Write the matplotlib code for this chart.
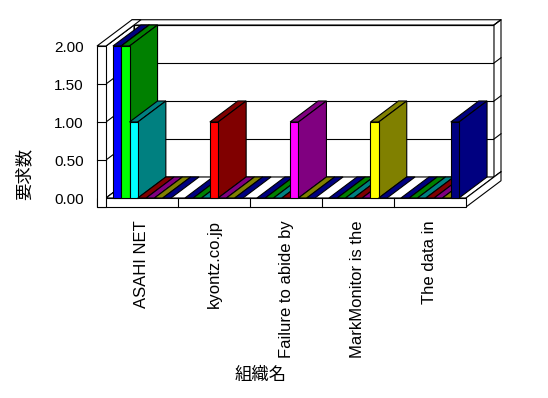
import matplotlib
matplotlib.use("Agg")
import matplotlib.pyplot as plt
from matplotlib.patches import Polygon

plt.rcParams['font.family'] = ['Liberation Sans', 'Noto Sans CJK JP', 'DejaVu Sans']

categories = ["ASAHI NET", "kyontz.co.jp", "Failure to abide by", "MarkMonitor is the", "The data in"]
s_blue = [2, 0, 0, 0, 0]
s_lime = [2, 0, 0, 0, 0]
s_cyan = [1, 0, 0, 0, 0]
s_red = [0, 1, 0, 0, 0]
s_magenta = [0, 0, 1, 0, 0]
s_yellow = [0, 0, 0, 1, 0]
s_navy = [0, 0, 0, 0, 1]
series = [s_blue, s_lime, s_cyan, s_red, s_magenta, s_yellow, s_navy]
front_colors = ["#0000FF", "#00FF00", "#00FFFF", "#FF0000", "#FF00FF", "#FFFF00", "#000080"]
dark_colors = ["#000080", "#008000", "#008080", "#800000", "#800080", "#808000", "#000080"]
yticks = [0, 0.5, 1.0, 1.5, 2.0]
ymax = 2.0

W, H = 548, 398
fig = plt.figure(figsize=(W / 100, H / 100), dpi=100)
ax = fig.add_axes([106 / W, (H - 198) / H, 360 / W, 152 / H])
n = len(categories)
ax.set_xlim(0, n)
ax.set_ylim(0, ymax)

# depth offsets in data units (3d look)
DX = 28 / 72
DY = 21 / 76
LW = 9 / 72     # left wall thickness
FT = 9 / 76     # floor thickness
BD = 1.25       # back of the back wall, in depth units
lw = 0.8


def P(x, y, d):
    return (x + d * DX, y + d * DY)


def poly(pts, fc, z):
    ax.add_patch(Polygon(pts, closed=True, facecolor=fc, edgecolor="black",
                         linewidth=lw, clip_on=False, zorder=z, joinstyle="miter"))


def line(a, b, z):
    ax.plot([a[0], b[0]], [a[1], b[1]], color="black", linewidth=lw, clip_on=False, zorder=z)


# back wall
poly([P(0, 0, 1), P(n, 0, 1), P(n, ymax, 1), P(0, ymax, 1)], "white", 1)
for v in yticks:
    line(P(0, v, 1), P(n, v, 1), 1.5)
poly([P(0, ymax, 1), P(n, ymax, 1), P(n, ymax, BD), P(-LW, ymax, BD)], "white", 2)
poly([P(n, 0, 1), P(n, ymax, 1), P(n, ymax, BD), P(n, 0, BD)], "white", 2)
for v in yticks:
    line(P(n, v, 1), P(n, v, BD), 2.5)

# left wall inner face
poly([P(0, 0, 0), P(0, ymax, 0), P(0, ymax, 1), P(0, 0, 1)], "white", 3)
for v in yticks:
    line(P(0, v, 0), P(0, v, 1), 3.5)

# floor
poly([P(0, 0, 0), P(n, 0, 0), P(n, 0, 1), P(0, 0, 1)], "white", 4)
poly([P(n, -FT, 0), P(n, 0, 0), P(n, 0, BD), P(n, -FT, BD)], "white", 4)
poly([P(-LW, -FT, 0), P(n, -FT, 0), P(n, 0, 0), P(-LW, 0, 0)], "white", 4)
for c in range(1, n):
    line((c, -FT), (c, 0), 4.5)

# left wall front and top
poly([P(-LW, -FT, 0), P(0, -FT, 0), P(0, ymax, 0), P(-LW, ymax, 0)], "white", 5)
poly([P(-LW, ymax, 0), P(0, ymax, 0), P(0, ymax, BD), P(-LW, ymax, BD)], "white", 5)
for v in yticks[1:-1]:
    line(P(-LW, v, 0), P(0, v, 0), 5.5)

# bars, drawn left to right
ns = len(series)
bw = 8.3 / 72
off = (1 - ns * bw) / 2
z = 10
for c in range(n):
    for s in range(ns):
        v = series[s][c]
        x0 = c + off + s * bw
        x1 = x0 + bw
        poly([P(x0, v, 0), P(x1, v, 0), P(x1, v, 1), P(x0, v, 1)], dark_colors[s], z)
        if v > 0:
            poly([P(x1, 0, 0), P(x1, v, 0), P(x1, v, 1), P(x1, 0, 1)], dark_colors[s], z + 0.1)
            poly([P(x0, 0, 0), P(x1, 0, 0), P(x1, v, 0), P(x0, v, 0)], front_colors[s], z + 0.2)
        z += 1

for sp in ax.spines.values():
    sp.set_visible(False)
ax.patch.set_visible(False)
ax.set_yticks(yticks)
ax.set_yticklabels([f"{v:.2f}" for v in yticks], fontsize=11)
ax.set_xticks([c + 0.5 for c in range(n)])
ax.set_xticklabels(categories, rotation=90, fontsize=12, va="top")
ax.tick_params(axis="y", length=0, pad=16)
ax.tick_params(axis="x", length=0, pad=16)
ax.set_xlabel("組織名", fontsize=12.5, va="center", family=['Noto Sans CJK JP'])
ax.xaxis.set_label_coords((261 - 106) / 360, (198 - 375) / 152)
ax.set_ylabel("要求数", fontsize=12.5, va="center", family=['Noto Sans CJK JP'])
ax.yaxis.set_label_coords((24 - 106) / 360, (198 - 174) / 152)

fig.savefig("out.png", dpi=100)
